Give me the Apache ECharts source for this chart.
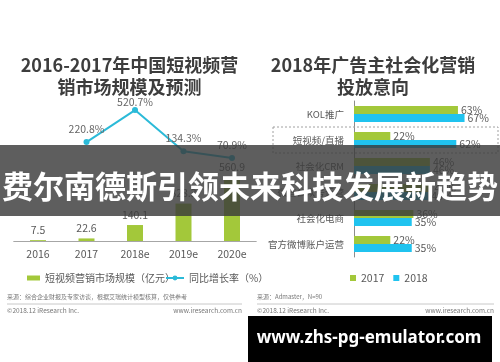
<!DOCTYPE html>
<html>
<head>
<meta charset="utf-8">
<script src="https://cdn.jsdelivr.net/npm/echarts@6/dist/echarts.min.js"></script>
<style>
html,body{margin:0;padding:0;background:#fff;}
#c{width:500px;height:362px;}
</style>
</head>
<body>
<div id="c"></div>
<script>
// Left chart data
const years = ['2016', '2017', '2018e', '2019e', '2020e'];
const marketSize = [7.5, 22.6, 140.1, 328.3, 560.9];
const growthRate = [null, 220.8, 520.7, 134.3, 70.9];

// Right chart data
const channels = ['KOL推广', '短视频/直播', '社会化CRM', '微信公众号运营', '社会化电商', '官方微博账户运营'];
const intent2017 = [63, 22, 46, 47, 36, 22];
const intent2018 = [67, 62, 46, 45, 35, 35];

const FONT = "'Noto Sans CJK SC', 'Noto Sans', sans-serif";
const GREEN = '#a3c83a';
const CYAN = '#20c3ef';
const LINE = '#2bbad8';
const TXT = '#595959';

const chart = echarts.init(document.getElementById('c'), null, {renderer: 'canvas'});

const lineData = growthRate.map((v, i) => {
  if (v === null) return '-';
  if (i === 2) return {value: v, label: {distance: 0}};
  return v;
});

const option = {
  backgroundColor: '#fff',
  textStyle: {fontFamily: FONT},
  animation: false,
  title: [
    {
      text: '2016-2017年中国短视频营\n销市场规模及预测',
      left: 124.5, top: 49, textAlign: 'center',
      textStyle: {fontSize: 18, fontWeight: 'bold', color: '#3d3d3d', lineHeight: 22, fontFamily: FONT}
    },
    {
      text: '2018年广告主社会化营销\n投放意向',
      left: 368, top: 49, textAlign: 'center',
      textStyle: {fontSize: 18, fontWeight: 'bold', color: '#3d3d3d', lineHeight: 22, fontFamily: FONT}
    }
  ],
  legend: [
    {
      data: ['短视频营销市场规模（亿元）'], left: 22, top: 267,
      icon: 'rect', itemWidth: 13, itemHeight: 5,
      textStyle: {fontSize: 10, color: TXT, lineHeight: 12, fontFamily: FONT}
    },
    {
      data: ['同比增长率（%）'], left: 160, top: 267,
      itemWidth: 18, itemHeight: 6,
      textStyle: {fontSize: 10, color: TXT, lineHeight: 12, fontFamily: FONT}
    },
    {
      data: ['2017', '2018'], left: 345, top: 267,
      icon: 'rect', itemWidth: 6, itemHeight: 6, itemGap: 9,
      textStyle: {fontSize: 10.5, color: TXT, lineHeight: 12, fontFamily: FONT}
    }
  ],
  grid: [
    {left: 13.75, top: 100, width: 242.5, height: 141},
    {left: 354, top: 101, width: 132, height: 156}
  ],
  xAxis: [
    {
      type: 'category', gridIndex: 0, data: years,
      axisLine: {lineStyle: {color: '#a6a6a6', width: 1}},
      axisTick: {show: false},
      axisLabel: {fontSize: 10.5, color: TXT, margin: 8, fontFamily: FONT}
    },
    {type: 'value', gridIndex: 1, min: 0, max: 80, show: false}
  ],
  yAxis: [
    {type: 'value', gridIndex: 0, min: 0, max: 1237, show: false},
    {type: 'value', gridIndex: 0, min: -707, max: 615, show: false},
    {
      type: 'category', gridIndex: 1, data: channels, inverse: true,
      axisLine: {lineStyle: {color: '#8c8c8c', width: 1}},
      axisTick: {show: false},
      axisLabel: {fontSize: 9.5, color: TXT, margin: 10, fontFamily: FONT}
    }
  ],
  series: [
    {
      name: '短视频营销市场规模（亿元）', type: 'bar', xAxisIndex: 0, yAxisIndex: 0,
      data: marketSize, barWidth: 16, itemStyle: {color: GREEN},
      label: {show: true, position: 'top', distance: 5, fontSize: 10.5, color: TXT, fontFamily: FONT}
    },
    {
      name: '同比增长率（%）', type: 'line', xAxisIndex: 0, yAxisIndex: 1,
      data: lineData, symbol: 'circle', symbolSize: 6,
      lineStyle: {color: LINE, width: 2}, itemStyle: {color: LINE},
      label: {show: true, position: 'top', distance: 5, fontSize: 10.5, color: '#666',
        formatter: p => p.value + '%', fontFamily: FONT}
    },
    {
      name: '2017', type: 'bar', xAxisIndex: 1, yAxisIndex: 2,
      data: intent2017, barWidth: 8, barGap: '0%', itemStyle: {color: GREEN},
      label: {show: true, position: 'right', distance: 3, fontSize: 10.5, color: TXT,
        formatter: p => p.value + '%', fontFamily: FONT}
    },
    {
      name: '2018', type: 'bar', xAxisIndex: 1, yAxisIndex: 2,
      data: intent2018, barWidth: 8, barGap: '0%', itemStyle: {color: CYAN},
      label: {show: true, position: 'right', distance: 3, fontSize: 10.5, color: TXT,
        formatter: p => p.value + '%', fontFamily: FONT}
    }
  ],
  graphic: [
    // dashed highlight box
    {type: 'rect', shape: {x: 273, y: 127, width: 225, height: 26},
      style: {fill: 'none', stroke: '#a0a0a0', lineWidth: 1, lineDash: [2, 2]}, z: 1},
    // footers
    {type: 'text', left: 7, top: 294, style: {text: '来源：综合企业财报及专家访谈，根据艾瑞统计模型核算，仅供参考', fontSize: 6, fill: '#777', fontFamily: FONT}},
    {type: 'line', shape: {x1: 7, y1: 304, x2: 242, y2: 304}, style: {stroke: '#c8c8c8', lineWidth: 1}},
    {type: 'text', left: 7, top: 307, style: {text: '©2018.12 iResearch Inc.', fontSize: 6.5, fill: '#777', fontFamily: FONT}},
    {type: 'text', right: 258, top: 307, style: {text: 'www.iresearch.com.cn', fontSize: 6.5, fill: '#777', fontFamily: FONT}},
    {type: 'text', left: 257, top: 294, style: {text: '来源：Admaster，N=90', fontSize: 6, fill: '#777', fontFamily: FONT}},
    {type: 'line', shape: {x1: 257, y1: 304, x2: 494, y2: 304}, style: {stroke: '#c8c8c8', lineWidth: 1}},
    {type: 'text', left: 257, top: 307, style: {text: '©2018.12 iResearch Inc.', fontSize: 6.5, fill: '#777', fontFamily: FONT}},
    {type: 'text', right: 6, top: 307, style: {text: 'www.iresearch.com.cn', fontSize: 6.5, fill: '#777', fontFamily: FONT}},
    // overlay banner
    {type: 'rect', shape: {x: 0, y: 145, width: 500, height: 71},
      style: {fill: 'rgba(58,58,58,0.82)'}, z: 100},
    {type: 'text', x: 250, y: 186, z: 101,
      style: {text: '费尔南德斯引领未来科技发展新趋势', fontSize: 31, fontWeight: 'bold', fill: '#fff',
        align: 'center', verticalAlign: 'middle', fontFamily: FONT}},
    // watermark
    {type: 'rect', shape: {x: 248, y: 316, width: 244, height: 46}, style: {fill: '#000'}, z: 100},
    {type: 'text', x: 369, y: 338, z: 101,
      style: {text: 'www.zhs-pg-emulator.com', fontSize: 17, fontWeight: 'bold', fill: '#fff',
        align: 'center', verticalAlign: 'middle', fontFamily: "'Noto Sans', 'Open Sans', sans-serif"}}
  ]
};
chart.setOption(option);
</script>
</body>
</html>
